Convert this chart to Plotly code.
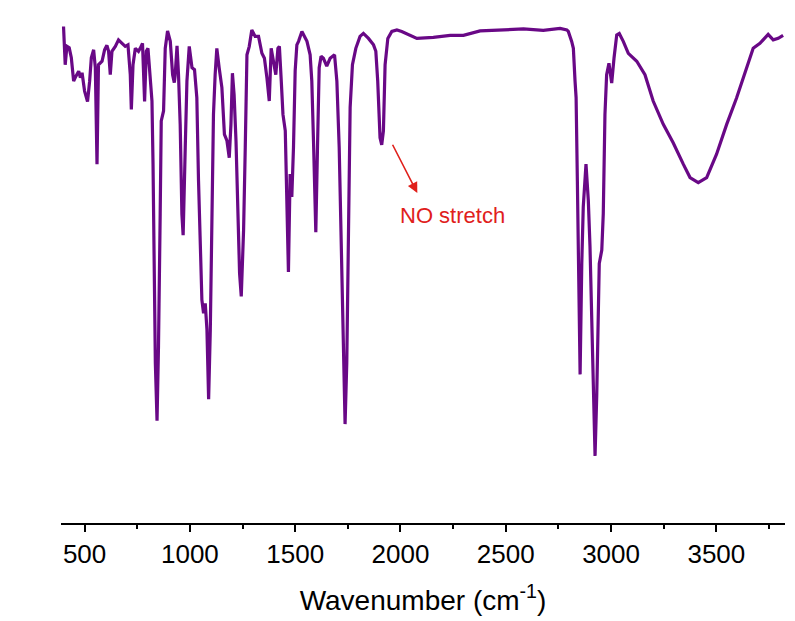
import plotly.graph_objects as go

wavenumber = [
    400, 408, 416, 427, 437, 448, 459, 472, 480, 488, 500, 514, 524, 532, 543, 551, 559, 566,
    583, 595, 606, 614, 622, 630, 646, 661, 678, 693, 706, 717, 722, 730, 741, 756, 764, 775,
    785, 793, 801, 812, 820, 825, 831, 836, 844, 851, 859, 864, 875, 883, 894, 907, 918, 926,
    930, 939, 946, 954, 962, 968, 978, 986, 997, 1010, 1022, 1033, 1041, 1049, 1057, 1065,
    1073, 1081, 1089, 1097, 1105, 1112, 1120, 1128, 1139, 1152, 1164, 1176, 1187, 1195, 1202,
    1210, 1219, 1228, 1236, 1244, 1255, 1263, 1271, 1282, 1294, 1310, 1326, 1342, 1354, 1366,
    1377, 1386, 1397, 1408, 1418, 1425, 1434, 1442, 1453, 1461, 1468, 1476, 1484, 1492, 1500,
    1508, 1516, 1532, 1539, 1556, 1571, 1579, 1587, 1598, 1606, 1614, 1623, 1634, 1650, 1666,
    1687, 1698, 1709, 1722, 1733, 1737, 1745, 1753, 1761, 1772, 1788, 1808, 1824, 1848, 1872,
    1883, 1892, 1903, 1911, 1919, 1927, 1940, 1959, 1983, 2006, 2078, 2156, 2236, 2299, 2378,
    2473, 2584, 2678, 2758, 2790, 2797, 2813, 2821, 2829, 2834, 2840, 2848, 2853, 2861, 2868,
    2881, 2892, 2900, 2908, 2916, 2924, 2932, 2939, 2944, 2956, 2963, 2971, 2979, 2990, 3003,
    3014, 3027, 3039, 3058, 3082, 3122, 3161, 3200, 3248, 3295, 3343, 3375, 3414, 3454, 3501,
    3549, 3596, 3644, 3675, 3707, 3746, 3770, 3794, 3817,
]

transmittance = [
    99.9, 92.2, 95.9, 95.6, 93.6, 88.9, 89.9, 90.9, 89.6, 90.6, 86.9, 84.8, 88.9, 93.6, 95.2, 91.6, 72.2, 92.2,
    92.9, 95.2, 96.1, 94.9, 90.2, 94.9, 95.9, 97.2, 96.5, 95.9, 96.2, 90.2, 83.2, 92.2, 95.5, 94.9, 95.5, 96.5,
    84.8, 94.9, 95.5, 90.2, 84.9, 72.2, 55.6, 32.2, 20.6, 35.6, 62.2, 80.9, 82.9, 95.5, 99.0, 96.9, 90.2, 88.6,
    90.0, 96.0, 90.2, 80.2, 62.2, 57.9, 75.6, 88.9, 95.9, 91.6, 91.2, 85.6, 68.9, 53.6, 44.9, 42.2,
    44.2, 38.9, 24.9, 38.9, 62.2, 82.2, 90.2, 95.5, 91.6, 87.6, 78.2, 76.9, 73.5, 80.2, 90.5,
    86.2, 76.9, 62.2, 50.2, 45.6, 58.9, 75.6, 94.2, 95.9, 99.2, 97.9, 97.9, 94.5, 93.5, 89.5,
    84.9, 95.5, 92.9, 90.2, 95.5, 95.9, 88.9, 82.2, 78.9, 62.2, 50.5, 70.2, 65.6, 75.6, 91.0,
    96.2, 96.9, 98.9, 98.2, 96.9, 94.2, 88.9, 76.9, 58.5, 75.6, 91.6, 93.9, 93.5, 91.9, 93.5,
    94.2, 88.9, 75.6, 48.9, 25.6, 19.9, 32.2, 62.2, 83.6, 92.2, 95.5, 97.9, 98.5, 97.5, 96.2,
    94.9, 88.9, 77.5, 76.1, 78.9, 92.2, 97.5, 98.9, 99.2, 98.9, 97.5, 97.7, 98.1, 98.1, 99.0,
    99.2, 99.4, 99.1, 99.5, 99.2, 98.9, 96.9, 95.5, 88.9, 85.6, 68.9, 48.9, 29.9, 52.2, 63.6,
    72.2, 64.9, 55.6, 42.2, 25.6, 13.5, 25.6, 42.2, 52.2, 54.9, 62.2, 82.2, 90.2, 92.5, 88.5,
    93.5, 98.2, 98.5, 96.9, 94.5, 92.9, 90.2, 84.9, 80.2, 76.5, 72.2, 69.5, 68.5, 69.5, 74.2,
    80.2, 85.5, 91.5, 95.5, 96.5, 98.3, 97.2, 97.5, 98.1,
]

x_ticks = [500, 1000, 1500, 2000, 2500, 3000, 3500]
x_tick_labels = ["500", "1000", "1500", "2000", "2500", "3000", "3500"]
x_minor_ticks = [750, 1250, 1750, 2250, 2750, 3250, 3750]
annotation_text = "NO stretch"
arrow_tail = (1959, 76.4)
arrow_head = (2080, 66.4)
label_pos = (2247, 61.9)

fig = go.Figure()
fig.add_trace(go.Scatter(
    x=wavenumber, y=transmittance, mode="lines",
    line=dict(color="#690886", width=3.2),
    showlegend=False, hoverinfo="skip",
))

fig.add_annotation(
    x=arrow_head[0], y=arrow_head[1], ax=arrow_tail[0], ay=arrow_tail[1],
    xref="x", yref="y", axref="x", ayref="y",
    text="", showarrow=True, arrowhead=2, arrowsize=1.3, arrowwidth=1.6,
    arrowcolor="#E0201B",
)
fig.add_annotation(
    x=label_pos[0], y=label_pos[1], xref="x", yref="y",
    text=annotation_text, showarrow=False,
    font=dict(family="Liberation Sans, Arial", size=22, color="#E0201B"),
)

fig.update_layout(
    width=795, height=621,
    margin=dict(l=61, r=10, t=20, b=95),
    plot_bgcolor="white", paper_bgcolor="white",
    font=dict(family="Liberation Sans, Arial", color="black"),
    xaxis=dict(
        range=[388, 3826],
        tickmode="array", tickvals=x_ticks, ticktext=x_tick_labels,
        ticks="outside", ticklen=7, tickwidth=1.5, tickcolor="black",
        showline=True, linecolor="black", linewidth=1.5,
        showgrid=False, zeroline=False,
        tickfont=dict(size=26, color="black"),
        minor=dict(tickvals=x_minor_ticks, ticks="outside",
                   ticklen=4, tickwidth=1.5, tickcolor="black", showgrid=False),
        title=dict(text="Wavenumber (cm<sup>-1</sup>)", font=dict(size=28, color="black"),
                   standoff=22),
    ),
    yaxis=dict(
        range=[0, 101.2], visible=False, showgrid=False, zeroline=False,
    ),
)

fig.write_html("out.html")
